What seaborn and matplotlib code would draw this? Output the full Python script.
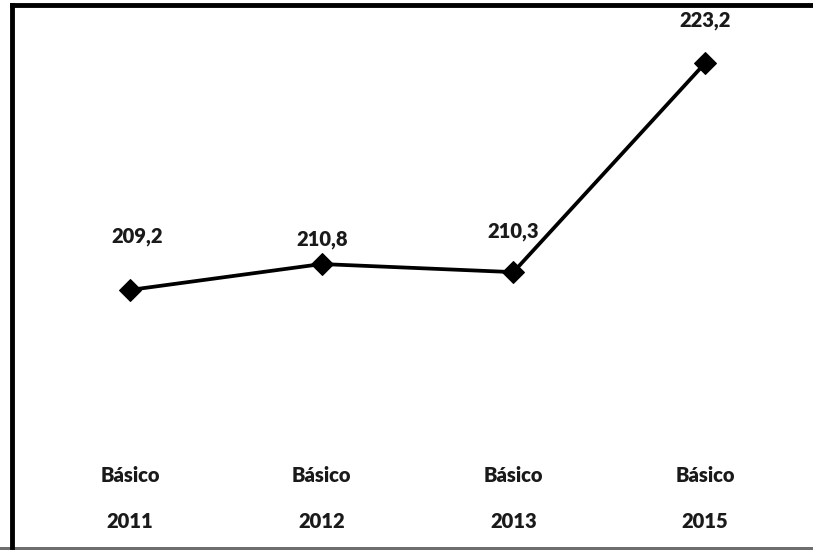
import matplotlib
matplotlib.use("Agg")
import matplotlib.pyplot as plt
import matplotlib.transforms as mtransforms
from matplotlib.lines import Line2D
from matplotlib.patches import Rectangle
import seaborn as sns
import pandas as pd

# Data
levels = ["Básico", "Básico", "Básico", "Básico"]
years = ["2011", "2012", "2013", "2015"]
scores = [209.2, 210.8, 210.3, 223.2]
value_labels = ["209,2", "210,8", "210,3", "223,2"]
# label offsets (pixels) relative to each marker
label_dx = [7, 1, 0, 0]
label_dy = [53, 25, 41, 43]

sns.set_theme(style="white")
plt.rcParams["font.family"] = ["Lato", "DejaVu Sans"]

df = pd.DataFrame({"pos": range(len(years)), "score": scores})

fig = plt.figure(figsize=(8.13, 5.50), dpi=100)
ax = fig.add_axes([8 / 813, 1 - 450 / 550, 805 / 813, 445 / 550])
ax.patch.set_visible(False)

sns.lineplot(data=df, x="pos", y="score", ax=ax, color="black", linewidth=2.7,
             marker="D", markersize=11, markeredgecolor="black",
             markerfacecolor="black")

for i, (v, lab) in enumerate(zip(scores, value_labels)):
    ax.annotate(lab, (i, v), xytext=(label_dx[i], label_dy[i]),
                textcoords="offset pixels", ha="center", va="center",
                fontsize=14.5, fontweight="heavy", color="#1a1a1a")

ax.set_xlim(-0.636, 3.563)
ax.set_ylim(199.32, 226.79)
ax.set_xticks([])
ax.set_yticks([])
ax.set_xlabel("")
ax.set_ylabel("")
for s in ax.spines.values():
    s.set_visible(False)

# two-line category labels below the plot area
trans = mtransforms.blended_transform_factory(ax.transData, fig.transFigure)
for i, (lv, yr) in enumerate(zip(levels, years)):
    ax.text(i, 1 - 475 / 550, lv, transform=trans, ha="center", va="center",
            fontsize=14.5, fontweight="heavy", color="#1a1a1a")
    ax.text(i, 1 - 522 / 550, yr, transform=trans, ha="center", va="center",
            fontsize=14.5, fontweight="heavy", color="#1a1a1a")

# chart frame: left and top edges, grey base line
fig.add_artist(Line2D([11.5 / 813, 11.5 / 813], [3 / 550, 1 - 5 / 550],
                      transform=fig.transFigure, color="black", linewidth=3.5,
                      solid_capstyle="projecting"))
fig.add_artist(Line2D([11.5 / 813, 1.0], [1 - 5 / 550, 1 - 5 / 550],
                      transform=fig.transFigure, color="black", linewidth=3.5,
                      solid_capstyle="projecting"))
fig.patches.append(Rectangle((0, 0), 1, 3 / 550, transform=fig.transFigure,
                             facecolor="#6e6e6e", edgecolor="none"))

fig.savefig("out.png", dpi=100)
